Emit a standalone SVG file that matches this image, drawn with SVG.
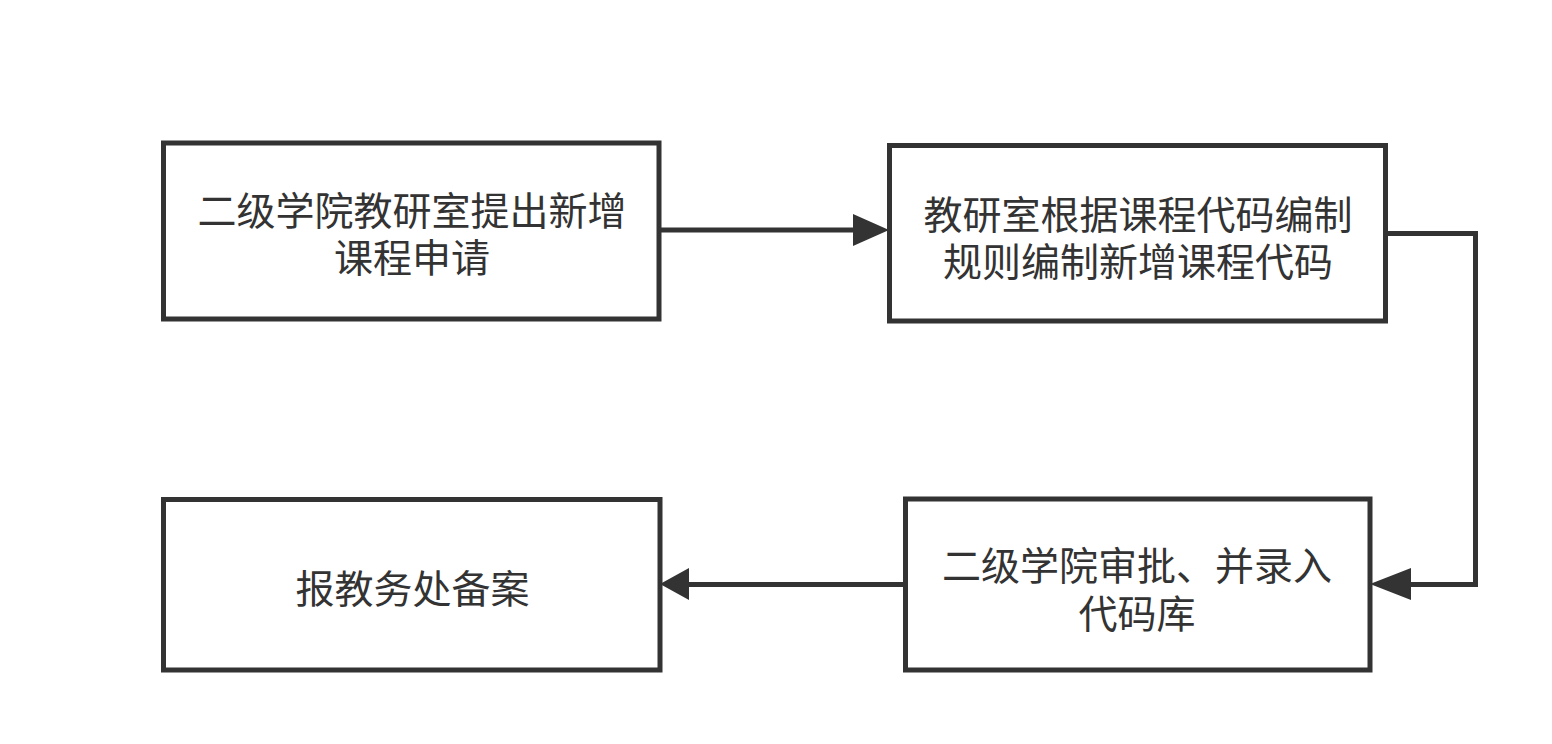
<svg xmlns="http://www.w3.org/2000/svg" width="1552" height="744" viewBox="0 0 1552 744">
<style>
.box{fill:#ffffff;stroke:#333333;stroke-width:5}
.lbl{font-family:"Noto Sans CJK SC","Noto Sans CJK TC",sans-serif;font-size:39px;fill:#333333;text-anchor:middle}
.edge{fill:none;stroke:#333333;stroke-width:5}
.head{fill:#333333;stroke:none}
</style>
<rect x="0" y="0" width="1552" height="744" fill="#ffffff"/>
<g id="connectors">
<path class="edge" d="M659,230 L856,230"/>
<polygon class="head" points="889,230 853,214 853,246"/>
<path class="edge" d="M1385.5,233.5 L1475.5,233.5 L1475.5,584.5 L1408,584.5"/>
<polygon class="head" points="1370,584 1411,568 1411,600"/>
<path class="edge" d="M905.5,584.5 L686,584.5"/>
<polygon class="head" points="660,584 689,568 689,600"/>
</g>
<g id="node1">
<rect class="box" x="163.5" y="143" width="495.5" height="176"/>
<text class="lbl" x="412" y="225">二级学院教研室提出新增</text>
<text class="lbl" x="412" y="272">课程申请</text>
</g>
<g id="node2">
<rect class="box" x="889.5" y="145.5" width="496" height="175.5"/>
<text class="lbl" x="1138" y="229">教研室根据课程代码编制</text>
<text class="lbl" x="1138" y="276">规则编制新增课程代码</text>
</g>
<g id="node3">
<rect class="box" x="163.5" y="499.5" width="496.5" height="170.5"/>
<text class="lbl" x="412.5" y="602.5">报教务处备案</text>
</g>
<g id="node4">
<rect class="box" x="905.5" y="499" width="464.5" height="171"/>
<text class="lbl" x="1137" y="580">二级学院审批、并录入</text>
<text class="lbl" x="1137" y="628">代码库</text>
</g>
</svg>
